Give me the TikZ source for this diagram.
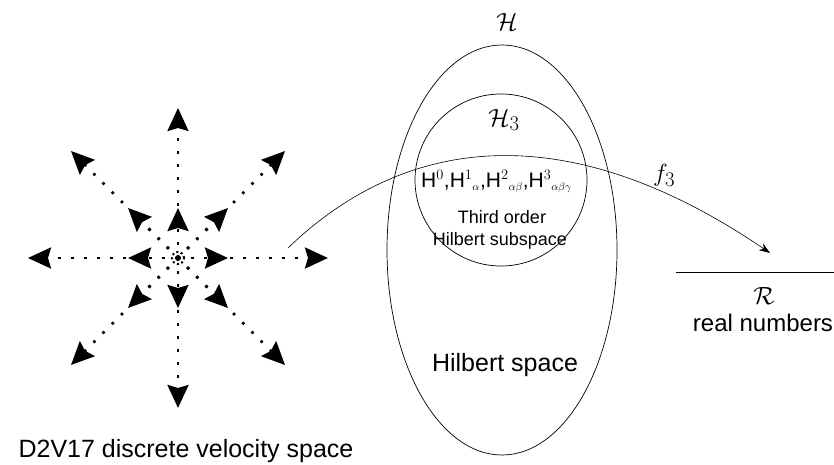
\documentclass[tikz,border=0pt]{standalone}
\usepackage{fontspec}
\setmainfont{Liberation Sans}
\usepackage{amsmath,amssymb}
\usetikzlibrary{arrows.meta, positioning, shapes.geometric, calc}

\tikzset{
  velo/.style={line width=2.6pt, dash pattern=on 2.6pt off 10.4pt,
    -{Stealth[length=23pt, width=21pt, inset=3pt]}},
  space/.style={draw, line width=0.7pt, inner sep=0pt},
  maparrow/.style={line width=0.6pt, -{Stealth[length=11pt, width=8pt]}},
  bigtxt/.style={font=\fontsize{25}{28}\selectfont, inner sep=0pt, anchor=base},
  scr/.style={font=\fontsize{30}{34}\selectfont, inner sep=0pt}
}

\begin{document}
\begin{tikzpicture}[x=1pt, y=-1pt]
\useasboundingbox (0,0) rectangle (834,465);

% discrete velocity set
\coordinate (v0) at (178,258);
\draw[line width=2pt, dash pattern=on 2pt off 2.5pt] (v0) circle (6pt);
\foreach \dx/\dy/\nm in {50/0/e, -50/0/w, 0/50/s, 0/-50/n,
    50/50/se, -50/50/sw, 50/-50/ne, -50/-50/nw,
    150/0/ee, -150/0/ww, 0/150/ss, 0/-150/nn,
    107/107/sese, -107/107/swsw, 107/-107/nene, -107/-107/nwnw}{
  \coordinate (v\nm) at ($(v0)+(\dx,\dy)$);
  \draw[velo] (v0) -- (v\nm);
}
\node[bigtxt] (dvs) at (186,457) {D2V17 discrete velocity space};

% Hilbert spaces
\node[space, ellipse, minimum width=230pt, minimum height=410pt] (hilbert) at (502,250) {};
\node[space, circle, minimum size=172pt] (hsub) at (501,180) {};
\node[scr] (hlab) at (507,22) {$\mathcal{H}$};
\node[scr] (h3lab) at (504,120) {$\mathcal{H}_3$};
\node[font=\fontsize{21}{24}\selectfont, inner sep=0pt, anchor=base west] (basis) at (421,187)
  {H$^{0}$,H$^{1}{}_{\scriptscriptstyle\alpha}$,H$^{2}{}_{\scriptscriptstyle\alpha\beta}$,H$^{3}{}_{\scriptscriptstyle\alpha\beta\gamma}$};
\node[font=\fontsize{18}{22}\selectfont, inner sep=0pt, anchor=base] (sublab1) at (502,223) {Third order};
\node[font=\fontsize{18}{22}\selectfont, inner sep=0pt, anchor=base] (sublab2) at (500,245) {Hilbert subspace};
\node[bigtxt] (hslab) at (505,371) {Hilbert space};

% mapping to the reals
\coordinate (src) at (288,248);
\coordinate (tgt) at (770,253);
\draw[maparrow] (src) .. controls (400,140) and (560,110) .. (tgt);
\node[scr] (flab) at (664,175) {$f_3$};
\coordinate (rl) at (676,272);
\coordinate (rr) at (834,272);
\draw[line width=0.7pt] (rl) -- (rr);
\node[scr] (rlab) at (764,296) {$\mathcal{R}$};
\node[bigtxt, font=\fontsize{24}{27}\selectfont] (rnum) at (763,331) {real numbers};
\end{tikzpicture}
\end{document}
